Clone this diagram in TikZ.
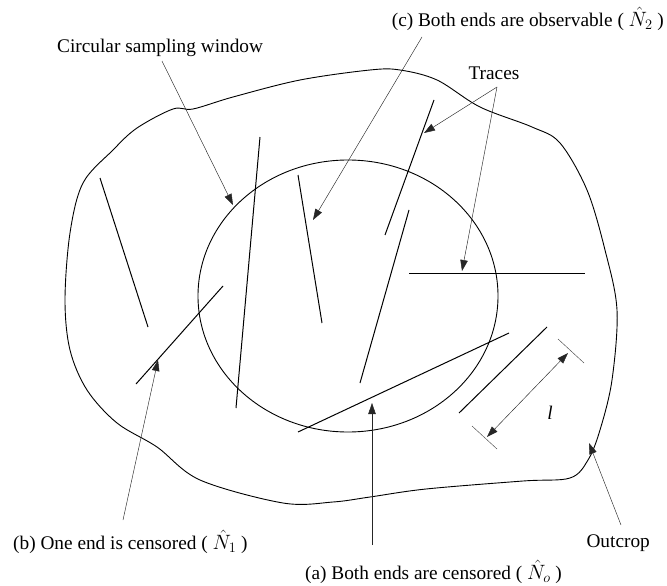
\documentclass[tikz,border=0pt]{standalone}
\usepackage{fontspec}
\setmainfont{Liberation Serif}
\usetikzlibrary{arrows.meta}
\begin{document}
\begin{tikzpicture}[x=1pt,y=-1pt,
  lbl/.style={inner sep=0pt,font=\fontsize{19.3}{22}\selectfont},
  trace/.style={line width=1pt},
  outline/.style={line width=0.9pt},
  leader/.style={line width=0.45pt,draw=black!85,-{Triangle[length=11pt,width=7.5pt]}},
  dim/.style={line width=0.45pt,draw=black!85,{Triangle[length=11pt,width=7.5pt]}-{Triangle[length=11pt,width=7.5pt]}},
  tick/.style={line width=0.45pt,draw=black!70}]
\useasboundingbox (0,0) rectangle (667,586);
% outcrop
\draw[outline] plot[smooth cycle,tension=0.55] coordinates {
 (83,183) (113,150) (137,128) (173,109) (193,109) (233,97) (300,80) (370,70)
 (400,70) (437,80) (480,107) (532,127) (560,143) (587,190) (605,250) (617,310)
 (612,380) (600,430) (588,460) (570,478) (523,481) (426,489) (370,497) (333,502)
 (283,503) (200,480) (157,447) (117,423) (87,390) (70,350) (65,300) (70,233)};
% sampling window
\draw[outline] (348,296) ellipse[x radius=150,y radius=136];
% traces
\draw[trace] (100,178) -- (148,327);
\draw[trace] (260,137) -- (236,408);
\draw[trace] (298,175) -- (322,323);
\draw[trace] (223,286) -- (136,384);
\draw[trace] (434,100) -- (385,235);
\draw[trace] (409,210) -- (360,383);
\draw[trace] (409,273) -- (585,273);
\draw[trace] (298,432) -- (509,333);
\draw[trace] (459,413) -- (547,327);
% dimension
\draw[tick] (472,426) -- (497,449);
\draw[tick] (558,339) -- (584,363);
\coordinate (d1) at (487,437);
\coordinate (d2) at (568,353);
\draw[dim] (d1) -- (d2);
\node[lbl] (ll) at (550,413) {\itshape l};
% labels
\node[lbl,anchor=east] (lc) at (664,19) {(c) Both ends are observable ( $\hat{N}_2$ )};
\node[lbl,anchor=west] (lw) at (57,48) {Circular sampling window};
\node[lbl] (lt) at (494,73) {Traces};
\node[lbl,anchor=west] (lb) at (13,542) {(b) One end is censored ( $\hat{N}_1$ )};
\node[lbl,anchor=east] (lo) at (650,543) {Outcrop};
\node[lbl,anchor=west] (la) at (305,572) {(a) Both ends are censored ( $\hat{N}_o$ )};
% leader tips
\coordinate (tc) at (313,220);
\coordinate (tw) at (233,205);
\coordinate (tt1) at (424,133);
\coordinate (tt2) at (462,271);
\coordinate (tb) at (158,360);
\coordinate (to) at (589,443);
\coordinate (ta) at (372,403);
\coordinate (sc) at (422,37);
\coordinate (sw) at (162,61);
\coordinate (st) at (497,87);
\coordinate (sb) at (123,520);
\coordinate (so) at (621,525);
\coordinate (sa) at (372,545);
\draw[leader] (sc) -- (tc);
\draw[leader] (sw) -- (tw);
\draw[leader] (st) -- (tt1);
\draw[leader] (st) -- (tt2);
\draw[leader] (sb) -- (tb);
\draw[leader] (so) -- (to);
\draw[leader] (sa) -- (ta);
\end{tikzpicture}
\end{document}
